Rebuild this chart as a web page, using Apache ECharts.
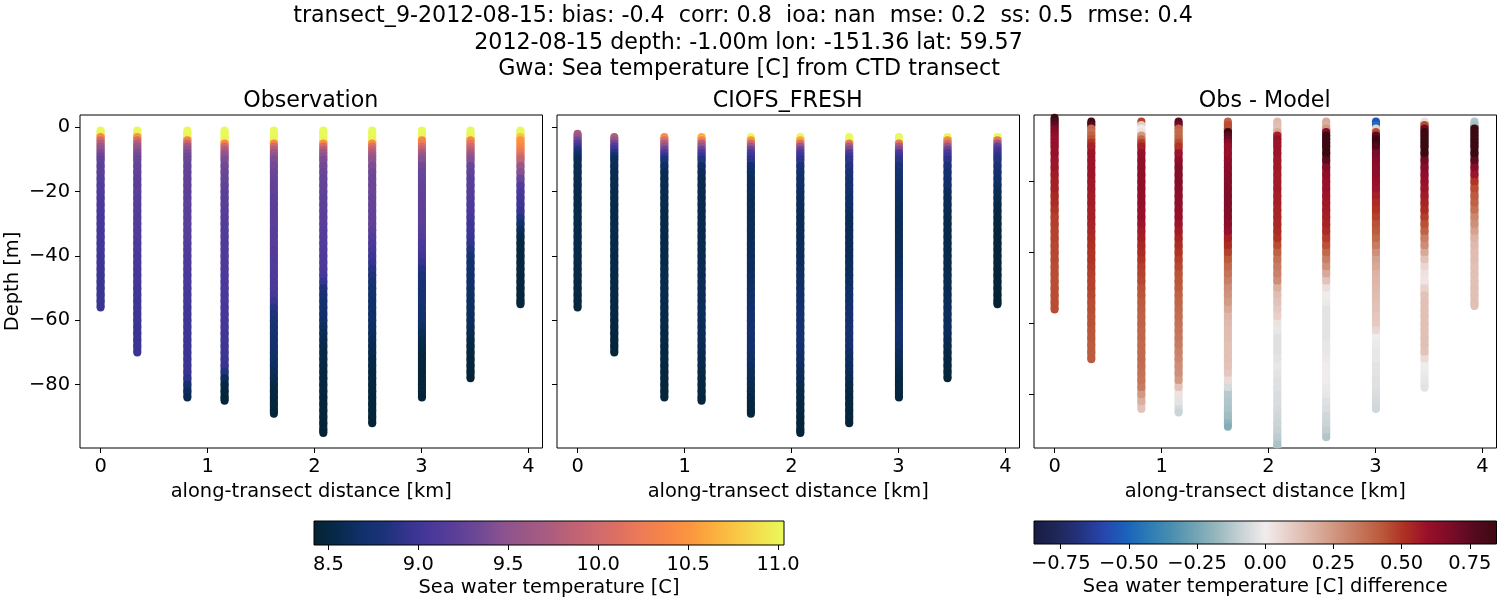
<!DOCTYPE html>
<html><head><meta charset="utf-8">
<style>html,body{margin:0;padding:0;background:#fff}#c{width:1500px;height:600px}</style>
<script src="https://cdn.jsdelivr.net/npm/echarts@6/dist/echarts.min.js"></script>
</head><body><div id="c"></div>
<script>
const stationKm=[0,0.343,0.811,1.159,1.62,2.082,2.539,3.004,3.458,3.925];
const stationBottom=[56,70,84,85,89,95,92,84,78,55];
const modelStart=[2,3,3,3,3,3,3,3,3,3];
const depthGrid=[1,2,3,4,5,6,7,8,9,10,12,14,16,18,20,22,24,26,28,30,32,34,36,38,40,42,44,46,48,50,52,54,56,58,60,62,64,66,68,70,72,74,76,78,80,82,84,86,88,90,92,94];

const obs1=[11.03,11.0,10.4,10.0,9.8,9.6,9.5,9.4,9.3,9.25, 9.22,9.2,9.18,9.15,9.12,9.1,9.08,9.06,9.05,9.05, 9.04,9.03,9.02,9.01,9.0,9.0,8.99,8.99,8.98,8.98, 8.98,8.98, 8.98];
const obs2=[11.03,11.0,10.5,10.05,9.8,9.6,9.5,9.4,9.35,9.3, 9.27,9.25,9.22,9.2,9.2,9.18,9.17,9.16,9.15,9.15, 9.13,9.12,9.1,9.09,9.07,9.06,9.05,9.04,9.03,9.02, 9.01,9.0,9.0,8.99,8.99,8.98,8.98,8.97,8.97, 8.97];
const obs3=[11.03,11.03,11.0,10.35,9.95,9.65,9.5,9.4,9.35,9.3, 9.27,9.25,9.24,9.23,9.22,9.22,9.21,9.2,9.2,9.2, 9.18,9.16,9.14,9.12,9.11,9.1,9.09,9.07,9.06,9.05, 9.04,9.03,9.02,9.01,9.0,9.0,9.0,8.99,8.99,8.98, 8.98,8.97,8.96,8.9,8.72,8.62, 8.58];
const obs4=[11.03,11.03,11.03,11.0,10.4,10.0,9.8,9.6,9.5,9.4, 9.35,9.3,9.28,9.25,9.22,9.2,9.2,9.18,9.17,9.15, 9.15,9.14,9.13,9.12,9.12,9.11,9.1,9.09,9.08,9.08, 9.07,9.06,9.05,9.05,9.04,9.03,9.02,9.01,9.0,9.0, 8.98,8.96,8.85,8.62,8.52,8.48,8.46, 8.45];
const obs5=[11.03,11.03,11.03,11.0,10.4,10.0,9.8,9.6,9.5,9.4, 9.35,9.3,9.28,9.25,9.25,9.22,9.22,9.2,9.2,9.2, 9.18,9.17,9.16,9.15,9.14,9.13,9.12,9.11,9.1,9.1, 9.05,8.98,8.88,8.82,8.78,8.76,8.74,8.72,8.7,8.68, 8.66,8.64,8.62,8.58,8.53,8.5,8.48,8.47,8.46, 8.46];
const obs6=[11.03,11.03,11.03,11.0,10.45,10.05,9.8,9.6,9.5,9.4, 9.35,9.3,9.28,9.26,9.25,9.23,9.22,9.21,9.2,9.2, 9.18,9.16,9.14,9.12,9.11,9.1,9.08,9.03,8.95,8.82, 8.76,8.73,8.71,8.69,8.66,8.63,8.6,8.58,8.56,8.54, 8.53,8.52,8.5,8.49,8.48,8.47,8.46,8.46,8.45,8.45, 8.44,8.44, 8.43];
const obs7=[11.03,11.03,11.03,11.0,10.45,10.1,9.9,9.75,9.6,9.5, 9.4,9.35,9.32,9.3,9.3,9.28,9.27,9.26,9.25,9.25, 9.2,9.15,9.1,9.05,9.0,8.95,8.88,8.82,8.76,8.73, 8.7,8.69,8.68,8.67,8.66,8.65,8.63,8.6,8.58,8.56, 8.54,8.52,8.5,8.49,8.48,8.47,8.46,8.46,8.45,8.45, 8.44];
const obs8=[11.03,11.03,11.0,10.4,10.3,10.05,9.9,9.7,9.55,9.45, 9.35,9.3,9.28,9.26,9.25,9.24,9.23,9.22,9.21,9.2, 9.18,9.15,9.1,9.05,9.0,8.95,8.85,8.8,8.78,8.76, 8.75,8.74,8.73,8.72,8.7,8.65,8.6,8.56,8.53,8.5, 8.48,8.47,8.46,8.46,8.45,8.45, 8.44];
const obs9=[11.03,11.03,11.0,10.4,10.2,10.0,9.85,9.7,9.55,9.45, 9.3,9.25,9.2,9.18,9.16,9.14,9.1,9.08,9.05,9.0, 9.0,8.97,8.92,8.85,8.77,8.73,8.7,8.69,8.68,8.67, 8.66,8.65,8.64,8.63,8.62,8.6,8.57,8.54,8.51,8.49, 8.47,8.46,8.45, 8.43];
const obs10=[11.03,11.0,10.75,10.5,10.45,10.4,10.3,10.2,10.05,9.9, 9.6,9.45,9.3,9.15,9.08,9.03,9.0,8.95,8.85,8.7, 8.62,8.55,8.5,8.5,8.5,8.49,8.49,8.48,8.48,8.47, 8.47,8.47, 8.47];

const mod1=[9.7,9.55,9.35,9.15,9.0,8.85,8.75,8.65,8.6, 8.58,8.57,8.57,8.56,8.56,8.55,8.55,8.55,8.55,8.55, 8.55,8.55,8.55,8.54,8.54,8.54,8.53,8.53,8.52,8.51, 8.5,8.49, 8.47];
const mod2=[9.75,9.55,9.35,9.15,9.0,8.85,8.7,8.62, 8.6,8.58,8.57,8.57,8.56,8.56,8.55,8.55,8.55,8.55, 8.55,8.55,8.55,8.55,8.54,8.54,8.54,8.54,8.54,8.53, 8.53,8.52,8.52,8.51,8.5,8.49,8.48,8.47,8.46, 8.45];
const mod3=[10.45,10.1,9.75,9.5,9.3,9.1,8.95,8.8, 8.65,8.6,8.58,8.57,8.57,8.56,8.56,8.55,8.55,8.55, 8.55,8.55,8.55,8.55,8.55,8.55,8.56,8.56,8.56,8.56, 8.56,8.56,8.56,8.55,8.55,8.54,8.53,8.53,8.52,8.51, 8.51,8.5,8.49,8.49,8.48,8.48, 8.47];
const mod4=[10.65,10.3,9.8,9.55,9.3,9.1,8.98,8.85, 8.65,8.6,8.58,8.57,8.57,8.56,8.56,8.56,8.56,8.56, 8.56,8.56,8.57,8.57,8.58,8.58,8.59,8.59,8.6,8.6, 8.6,8.6,8.61,8.61,8.61,8.6,8.6,8.6,8.59,8.58, 8.56,8.55,8.53,8.52,8.5,8.49,8.48, 8.47];
const mod5=[11.03,10.5,10.0,9.6,9.3,9.1,9.0,8.9, 8.7,8.65,8.63,8.62,8.61,8.6,8.6,8.6,8.6,8.6, 8.6,8.6,8.61,8.61,8.62,8.63,8.63,8.64,8.65,8.66, 8.67,8.68,8.69,8.7,8.71,8.72,8.72,8.71,8.7,8.68, 8.66,8.64,8.62,8.6,8.57,8.55,8.52,8.5,8.48, 8.45];
const mod6=[11.03,10.6,10.1,9.6,9.3,9.1,9.0,8.9, 8.78,8.72,8.68,8.66,8.64,8.63,8.62,8.61,8.6,8.6, 8.6,8.6,8.61,8.61,8.62,8.63,8.64,8.65,8.66,8.67, 8.68,8.69,8.7,8.72,8.73,8.74,8.74,8.74,8.72,8.68, 8.66,8.64,8.62,8.6,8.57,8.55,8.53,8.51,8.49,8.48, 8.46,8.45, 8.44];
const mod7=[11.03,11.03,10.2,9.7,9.4,9.15,9.0,8.92, 8.85,8.78,8.75,8.72,8.7,8.68,8.66,8.64,8.62,8.6, 8.6,8.6,8.6,8.6,8.6,8.61,8.62,8.63,8.64,8.66, 8.67,8.69,8.7,8.72,8.73,8.74,8.74,8.73,8.72,8.66, 8.64,8.62,8.6,8.58,8.55,8.52,8.5,8.49,8.48,8.47, 8.44];
const mod8=[11.03,11.03,10.2,9.7,9.4,9.1,9.0,8.9, 8.8,8.75,8.72,8.69,8.67,8.65,8.63,8.62,8.61,8.6, 8.6,8.6,8.6,8.6,8.6,8.61,8.62,8.63,8.64,8.65, 8.66,8.67,8.68,8.7,8.71,8.72,8.71,8.69,8.66,8.62, 8.59,8.57,8.55,8.52,8.5,8.49, 8.47];
const mod9=[11.03,10.4,10.0,9.6,9.3,9.1,9.0,8.9, 8.8,8.75,8.71,8.67,8.62,8.6,8.59,8.58,8.56,8.55, 8.55,8.55,8.55,8.55,8.55,8.56,8.56,8.57,8.57,8.58, 8.59,8.6,8.61,8.62,8.62,8.61,8.6,8.58,8.56,8.52, 8.5,8.48,8.46, 8.44];
const mod10=[11.03,10.2,9.6,9.25,9.05,8.98,8.9,8.85, 8.78,8.72,8.68,8.64,8.6,8.57,8.54,8.52,8.5,8.47, 8.47,8.46,8.46,8.45,8.45,8.45,8.44,8.44,8.44,8.44, 8.43,8.43, 8.43];

const dif1=[.85,.8,.75,.68,.65,.62,.6,.6,.6, .6,.58,.58,.56,.55,.55,.53,.52,.5,.48, .48,.47,.47,.46,.46,.46,.45,.45,.45,.45, .45,.45, .45];
const dif2=[.82,.78,.38,.36,.4,.44,.5,.55, .58,.58,.58,.58,.57,.57,.56,.56,.55,.55, .54,.53,.52,.51,.5,.5,.49,.48,.47,.47, .46,.45,.45,.44,.44,.43,.43,.42,.42, .42];
const dif3=[.47,.1,0,.03,.25,.38,.48,.55, .6,.62,.62,.62,.62,.62,.61,.61,.6,.6, .58,.56,.55,.53,.52,.5,.48,.47,.46,.44, .43,.42,.41,.4,.4,.39,.39,.38,.38,.38, .37,.36,.35,.33,.25,.18, .12];
const dif4=[.75,.7,.4,.38,.38,.4,.45,.5, .58,.62,.65,.65,.65,.64,.63,.62,.61,.6, .58,.56,.54,.52,.5,.48,.46,.44,.43,.42, .4,.39,.38,.37,.36,.35,.34,.33,.31,.3, .28,.27,.24,.12,.03,-.03,-.06, -.08];
const dif5=[.4,.45,.45,.85,.75,.7,.65,.6, .6,.62,.63,.64,.65,.66,.66,.66,.66,.65, .63,.6,.55,.52,.47,.42,.38,.35,.32,.28, .26,.24,.2,.16,.15,.14,.14,.13,.13,.13, .12,.11,.05,-.06,-.12,-.13,-.14,-.16,-.19, -.22];
const dif6=[.15,.14,.13,.2,.55,.6,.58,.58, .58,.57,.57,.56,.56,.56,.55,.55,.54,.54, .53,.52,.5,.45,.4,.36,.33,.31,.28,.18, .14,.12,.1,.08,.03,-.02,-.04,-.04,-.04,-.03, -.02,-.03,-.04,-.04,-.05,-.05,-.06,-.07,-.08,-.09, -.11,-.14, -.15];
const dif7=[.2,.18,.25,.65,.85,.85,.85,.85, .85,.75,.65,.62,.6,.6,.58,.57,.56,.55, .54,.52,.48,.44,.38,.32,.27,.2,.12,.04, 0,-.01,-.03,-.03,-.03,-.03,-.03,-.02,-.02,-.01, 0,0,0,-.01,-.02,-.04,-.05,-.07,-.08,-.1, -.13];
const dif8=[-.55,-.48,.08,.45,.75,.85,.85,.78, .68,.65,.63,.62,.6,.58,.55,.52,.5,.47, .44,.42,.38,.33,.27,.22,.2,.17,.16,.15, .14,.13,.12,.11,.1,.06,0,-.01,-.02,-.02, -.03,-.03,-.04,-.04,-.05,-.06, -.07];
const dif9=[-.03,.45,.7,.85,.85,.85,.85,.85, .85,.7,.65,.62,.6,.58,.56,.54,.52,.48, .44,.4,.32,.28,.2,.12,.06,.03,.02,.08, .12,.13,.13,.13,.13,.13,.13,.13,.12,.05, 0,-.01,-.02, -.03];
const dif10=[-.13,-.15,.85,.85,.85,.85,.85,.85, .85,.75,.65,.58,.5,.45,.42,.4,.36,.3, .27,.22,.17,.15,.14,.14,.13,.13,.13,.13, .13,.13, .13];

const obsValues=[obs1,obs2,obs3,obs4,obs5,obs6,obs7,obs8,obs9,obs10];
const modValues=[mod1,mod2,mod3,mod4,mod5,mod6,mod7,mod8,mod9,mod10];
const difValues=[dif1,dif2,dif3,dif4,dif5,dif6,dif7,dif8,dif9,dif10];

const thermalColors=['#042333','#072a4a','#10306a','#1c3278','#35348f','#4a389b','#5a3f98','#6e4895','#8a5290','#9b5885','#ab5c80','#bf6275','#cf6a6e','#df7061','#ee7c55','#f78647','#fc963f','#fbaf3e','#f9c845','#f2e24f','#e8fa5b'];
const balanceColors=['#181c43','#1f2758','#23337e','#2845ad','#1a62bb','#2d7cb5','#4b8fb0','#72a4b4','#9bbabf','#c9d3d6','#f1ecec','#e7cfc8','#dcb3a5','#d09680','#c6785e','#bc5a3b','#ae3023','#990f2a','#7a0c27','#560a1f','#3c0912'];

const titleLines=['transect_9-2012-08-15: bias: -0.4  corr: 0.8  ioa: nan  mse: 0.2  ss: 0.5  rmse: 0.4','2012-08-15 depth: -1.00m lon: -151.36 lat: 59.57','Gwa: Sea temperature [C] from CTD transect'];
const panelTitles=['Observation','CIOFS_FRESH','Obs - Model'];
const xTicks=[0,1,2,3,4];
const yTicks=[0,-20,-40,-60,-80];
const thermalTicks=[8.5,9,9.5,10,10.5,11];
const balanceTicks=[-0.75,-0.5,-0.25,0,0.25,0.5,0.75];
const thermalRange=[8.42,11.033];
const balanceRange=[-0.848,0.848];
const xRange=[-0.1925,4.131];
const yRangeShared=[-99.66,3.82];
const yRangeDiff=[-95,-1.2];

const FONT='DejaVu Sans';
const FS=19.44;
const TS=22.2;
const minus=s=>String(s).replace('-','\u2212');
const lefts=[80,557,1034];
const W=462.5;

function stationPoints(valueLists,useModelStart){
  const pts=[];
  valueLists.forEach((vals,s)=>{
    const bottom=stationBottom[s];
    const start=useModelStart?modelStart[s]:1;
    const ds=depthGrid.filter(d=>d>=start&&d<bottom).concat([bottom]);
    ds.forEach((d,i)=>pts.push([stationKm[s],-d,vals[i],i>0?-ds[i-1]:-d]));
  });
  return pts;
}
const panels=[stationPoints(obsValues,false),stationPoints(modValues,true),stationPoints(difValues,true)];

const grids=[],xAxes=[],yAxes=[],series=[];
lefts.forEach((l,i)=>{
  grids.push({left:l,top:115,width:W,height:333,show:true,borderColor:'#000',borderWidth:1,backgroundColor:'transparent',outerBoundsMode:'none',containLabel:false});
  xAxes.push({gridIndex:i,type:'value',min:xRange[0],max:xRange[1],splitLine:{show:false},
    axisLine:{show:false,onZero:false},
    axisTick:{show:true,customValues:xTicks,length:5,lineStyle:{color:'#000',width:1}},
    axisLabel:{show:true,customValues:xTicks,color:'#000',fontFamily:FONT,fontSize:FS,margin:9,formatter:v=>String(v)},
    name:'along-transect distance [km]',nameLocation:'middle',nameGap:34,
    nameTextStyle:{color:'#000',fontFamily:FONT,fontSize:FS}});
  const yr=i===2?yRangeDiff:yRangeShared;
  const yt=i===2?yTicks.slice(1):yTicks;
  yAxes.push({gridIndex:i,type:'value',min:yr[0],max:yr[1],splitLine:{show:false},
    axisLine:{show:false,onZero:false},
    axisTick:{show:true,customValues:yt,length:5,lineStyle:{color:'#000',width:1}},
    axisLabel:{show:i===0,customValues:yt,color:'#000',fontFamily:FONT,fontSize:FS,margin:10,padding:[2,0,0,0],formatter:v=>minus(v)},
    name:i===0?'Depth [m]':'',nameLocation:'middle',nameGap:58,
    nameTextStyle:{color:'#000',fontFamily:FONT,fontSize:FS}});
  /* a sample on the axis limit is left to the clipped band below, as the reference cuts it at the frame */
  series.push({type:'scatter',xAxisIndex:i,yAxisIndex:i,data:panels[i].filter(p=>p[1]>yr[0]),symbol:'circle',symbolSize:8,z:3,
    clip:true,animation:false,silent:true,itemStyle:{opacity:1},encode:{x:0,y:1}});
});

function colorbar(idx,left,width,height,range,ticks,colors,digits,name){
  grids.push({left:left,top:521,width:width,height:height,show:false,outerBoundsMode:'none',containLabel:false});
  xAxes.push({gridIndex:idx,type:'value',min:range[0],max:range[1],splitLine:{show:false},axisLine:{show:false,onZero:false},
    axisTick:{show:true,customValues:ticks,length:5,lineStyle:{color:'#000',width:1}},
    axisLabel:{show:true,customValues:ticks,color:'#000',fontFamily:FONT,fontSize:FS,margin:10,formatter:v=>minus(v.toFixed(digits))},
    name:name,nameLocation:'middle',nameGap:33,nameTextStyle:{color:'#000',fontFamily:FONT,fontSize:FS}});
  yAxes.push({gridIndex:idx,type:'value',min:0,max:1,show:false});
  series.push({type:'custom',xAxisIndex:idx,yAxisIndex:idx,silent:true,animation:false,clip:false,
    data:[[range[0],0,range[1],1]],encode:{x:[0,2],y:[1,3]},
    renderItem:(p,api)=>{
      const a=api.coord([api.value(0),api.value(1)]),b=api.coord([api.value(2),api.value(3)]);
      return {type:'rect',shape:{x:a[0],y:b[1],width:b[0]-a[0],height:a[1]-b[1]},
        style:{stroke:'#000',lineWidth:1,fill:new echarts.graphic.LinearGradient(0,0,1,0,
          colors.map((c,k)=>({offset:k/(colors.length-1),color:c})))}};
    }});
}
colorbar(3,314,470,24,thermalRange,thermalTicks,thermalColors,1,'Sea water temperature [C]');
colorbar(4,1034,462.5,23,balanceRange,balanceTicks,balanceColors,2,'Sea water temperature [C] difference');

/* the gap between two neighbouring samples of a station, drawn from the same values */
lefts.forEach((l,i)=>{
  series.push({type:'custom',xAxisIndex:i,yAxisIndex:i,silent:true,animation:false,clip:true,z:2,
    data:panels[i].filter(p=>p[3]!==p[1]),encode:{x:0,y:[1,3]},
    renderItem:(p,api)=>{
      const a=api.coord([api.value(0),api.value(3)]),b=api.coord([api.value(0),api.value(1)]);
      return {type:'rect',shape:{x:a[0]-4,y:a[1],width:8,height:b[1]-a[1]},style:{fill:api.visual('color')}};
    }});
});

const titles=titleLines.map((t,i)=>({text:t,left:[738,743.5,744][i],top:[0.5,27,53][i],textAlign:'center',
  textStyle:{color:'#000',fontFamily:FONT,fontSize:TS,fontWeight:'normal'}}));
panelTitles.forEach((t,i)=>titles.push({text:t,left:lefts[i]+W/2-5.5,top:85,textAlign:'center',
  textStyle:{color:'#000',fontFamily:FONT,fontSize:TS,fontWeight:'normal'}}));

const chart=echarts.init(document.getElementById('c'),null,{renderer:'canvas'});
chart.setOption({
  animation:false,backgroundColor:'#fff',title:titles,grid:grids,xAxis:xAxes,yAxis:yAxes,series:series,
  visualMap:[
    {type:'continuous',show:false,seriesIndex:[0,1,5,6],dimension:2,min:thermalRange[0],max:thermalRange[1],inRange:{color:thermalColors}},
    {type:'continuous',show:false,seriesIndex:[2,7],dimension:2,min:balanceRange[0],max:balanceRange[1],inRange:{color:balanceColors}}
  ]
});
</script></body></html>
